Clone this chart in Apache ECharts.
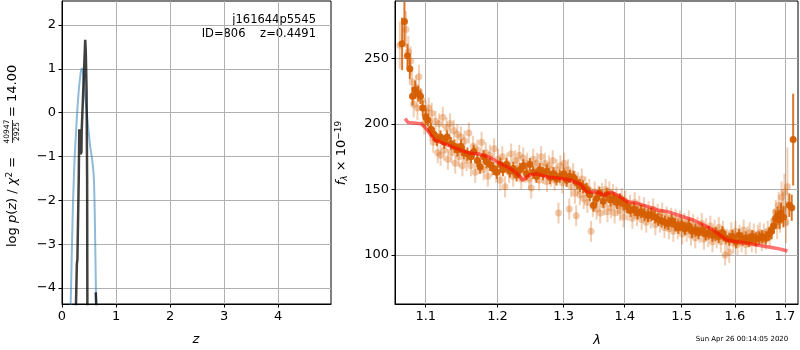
<!DOCTYPE html>
<html>
<head>
<meta charset="utf-8">
<script src="https://cdn.jsdelivr.net/npm/echarts@6/dist/echarts.min.js"></script>
<style>
  html, body { margin: 0; padding: 0; background: #fff; }
  #chart { width: 800px; height: 350px; }
</style>
</head>
<body>
<div id="chart"></div>
<script>
// ---- left panel: log p(z) ----
const zTicks = [0, 1, 2, 3, 4]
const logpTicks = [-4, -3, -2, -1, 0, 1, 2]
const pzBlue = [
  [0.155, -4.6], [0.168, -4.0], [0.185, -3.0], [0.205, -2.0], [0.235, -1.0], [0.26, -0.45],
  [0.28, 0.0], [0.31, 0.5], [0.34, 0.85], [0.36, 1.0], [0.38, 1.0], [0.4, 0.75],
  [0.43, 0.35], [0.46, 0.0], [0.49, -0.4], [0.52, -0.75], [0.55, -1.0], [0.57, -1.2],
  [0.59, -1.5], [0.605, -2.2], [0.615, -3.0], [0.625, -3.8], [0.635, -4.6]
]
const pzBlack = [
  [0.255, -4.6], [0.275, -3.45], [0.285, -3.35], [0.31, -1.5], [0.32, -0.38], [0.34, -0.95],
  [0.36, -0.9], [0.365, -0.4], [0.43, 1.66], [0.44, 1.4], [0.455, 0.5], [0.465, -1.5], [0.47, -4.6]
]
const pzBlackTail = [[0.625, -4.1], [0.64, -4.6]]

// ---- right panel: spectrum [lambda, flux, err] ----
const lamTicks = [1.1, 1.2, 1.3, 1.4, 1.5, 1.6, 1.7]
const fluxTicks = [100, 150, 200, 250]
const specLight = [
  [1.066, 260, 18], [1.074, 272, 14], [1.077, 255, 12], [1.080, 248, 11], [1.082, 232, 10], [1.084, 215, 10],
  [1.087, 228, 9], [1.089, 212, 9], [1.091, 236, 9], [1.095, 218, 8], [1.098, 200, 8], [1.100, 210, 8],
  [1.104, 212, 8], [1.106, 195, 8], [1.108, 208, 8], [1.110, 186, 8], [1.113, 202, 8], [1.116, 178, 8],
  [1.118, 200, 8], [1.120, 176, 8], [1.123, 205, 8], [1.125, 180, 8], [1.128, 197, 8], [1.130, 173, 8],
  [1.133, 200, 8], [1.135, 178, 8], [1.138, 195, 8], [1.140, 170, 8], [1.143, 192, 8], [1.145, 175, 8],
  [1.148, 190, 8], [1.150, 168, 8], [1.153, 187, 8], [1.156, 172, 8], [1.159, 193, 8], [1.162, 168, 8],
  [1.165, 183, 8], [1.168, 163, 8], [1.171, 180, 8], [1.174, 170, 8], [1.177, 186, 8], [1.180, 165, 8],
  [1.183, 178, 8], [1.186, 160, 8], [1.189, 176, 8], [1.192, 168, 8], [1.195, 181, 8], [1.198, 163, 8],
  [1.201, 173, 8], [1.204, 157, 8], [1.207, 175, 8], [1.211, 152, 8], [1.214, 170, 8], [1.217, 163, 8],
  [1.220, 177, 8], [1.223, 160, 8], [1.226, 172, 8], [1.229, 166, 8], [1.232, 176, 8], [1.235, 158, 8],
  [1.238, 174, 8], [1.241, 163, 8], [1.244, 170, 8], [1.247, 158, 8], [1.250, 151, 8], [1.253, 173, 8],
  [1.256, 164, 8], [1.259, 170, 8], [1.262, 157, 8], [1.265, 175, 8], [1.268, 162, 8], [1.271, 170, 8],
  [1.274, 156, 8], [1.277, 168, 8], [1.280, 160, 8], [1.283, 172, 8], [1.286, 157, 8], [1.289, 165, 8],
  [1.292, 132, 8], [1.295, 168, 8], [1.298, 155, 8], [1.301, 170, 8], [1.304, 160, 8], [1.307, 165, 8],
  [1.309, 135, 8], [1.312, 152, 8], [1.315, 162, 8], [1.318, 147, 8], [1.320, 130, 8], [1.323, 155, 8],
  [1.326, 146, 8], [1.329, 158, 8], [1.332, 143, 8], [1.335, 152, 8], [1.338, 140, 8], [1.341, 150, 8],
  [1.344, 118, 8], [1.347, 137, 8], [1.350, 148, 8], [1.353, 135, 8], [1.356, 145, 8], [1.359, 132, 8],
  [1.362, 147, 8], [1.365, 138, 8], [1.368, 150, 8], [1.371, 133, 8], [1.374, 148, 8], [1.377, 136, 8],
  [1.380, 146, 8], [1.383, 132, 8], [1.386, 144, 8], [1.389, 138, 8], [1.392, 134, 8], [1.395, 143, 8],
  [1.398, 129, 8], [1.401, 141, 8], [1.405, 134, 8], [1.409, 138, 8], [1.413, 128, 8], [1.417, 140, 8],
  [1.421, 130, 8], [1.425, 137, 8], [1.429, 127, 8], [1.433, 136, 8], [1.437, 125, 8], [1.441, 133, 8],
  [1.445, 128, 8], [1.449, 135, 8], [1.453, 123, 8], [1.457, 131, 8], [1.461, 125, 8], [1.465, 132, 8],
  [1.469, 121, 8], [1.473, 129, 8], [1.477, 120, 8], [1.481, 128, 8], [1.485, 118, 8], [1.489, 127, 8],
  [1.493, 120, 8], [1.497, 126, 8], [1.501, 116, 8], [1.505, 124, 8], [1.509, 118, 8], [1.513, 126, 8],
  [1.517, 115, 8], [1.521, 123, 8], [1.525, 113, 8], [1.529, 121, 8], [1.533, 117, 8], [1.537, 124, 8],
  [1.541, 112, 8], [1.545, 120, 8], [1.549, 114, 8], [1.553, 122, 8], [1.557, 110, 8], [1.561, 119, 8],
  [1.565, 113, 8], [1.569, 121, 8], [1.573, 110, 8], [1.577, 118, 8], [1.581, 100, 8], [1.585, 112, 8],
  [1.589, 102, 8], [1.593, 117, 8], [1.597, 109, 8], [1.601, 118, 8], [1.605, 108, 8], [1.609, 115, 8],
  [1.613, 110, 8], [1.617, 119, 8], [1.621, 108, 8], [1.625, 114, 8], [1.629, 117, 8], [1.633, 110, 8],
  [1.637, 116, 8], [1.641, 109, 8], [1.645, 115, 8], [1.649, 117, 8], [1.653, 111, 8], [1.657, 116, 8],
  [1.661, 112, 8], [1.665, 118, 8], [1.669, 114, 8], [1.673, 120, 8], [1.677, 126, 9], [1.681, 133, 9],
  [1.684, 122, 10], [1.687, 138, 10], [1.690, 128, 11], [1.693, 144, 12], [1.696, 135, 13], [1.699, 148, 14],
  [1.702, 125, 16], [1.705, 152, 30]
]
const specDark = [
  [1.069, 261, 20], [1.072, 278, 15], [1.076, 252, 9], [1.079, 242, 8], [1.0825, 221, 7], [1.086, 226, 7],
  [1.090, 223, 6], [1.093, 221, 6], [1.096, 212, 6], [1.100, 205, 6], [1.103, 203, 5], [1.107, 196, 5],
  [1.111, 192, 5], [1.115, 188, 5], [1.120, 190, 5], [1.125, 186, 5], [1.129, 190, 5], [1.134, 185, 5],
  [1.139, 183, 5], [1.143, 180, 5], [1.148, 183, 5], [1.152, 178, 5], [1.157, 177, 5], [1.162, 175, 5],
  [1.166, 179, 5], [1.171, 172, 5], [1.175, 167, 5], [1.180, 175, 5], [1.184, 171, 5], [1.189, 169, 5],
  [1.194, 166, 5], [1.199, 163, 5], [1.204, 169, 5], [1.208, 165, 5], [1.213, 169, 5], [1.218, 164, 5],
  [1.223, 166, 5], [1.228, 161, 5], [1.233, 165, 5], [1.238, 168, 5], [1.243, 162, 5], [1.248, 169, 5],
  [1.253, 163, 5], [1.258, 160, 5], [1.263, 165, 5], [1.268, 162, 5], [1.274, 164, 5], [1.279, 159, 5],
  [1.284, 162, 5], [1.289, 158, 5], [1.294, 160, 5], [1.300, 162, 5], [1.305, 157, 5], [1.310, 160, 5],
  [1.316, 159, 5], [1.321, 155, 5], [1.326, 153, 5], [1.331, 152, 5], [1.337, 150, 5], [1.342, 146, 5],
  [1.348, 138, 5], [1.353, 143, 5], [1.358, 147, 5], [1.364, 141, 5], [1.370, 146, 5], [1.376, 142, 5],
  [1.381, 143, 5], [1.387, 140, 5], [1.392, 142, 5], [1.398, 139, 5], [1.404, 137, 5], [1.410, 134, 5],
  [1.416, 135, 5], [1.422, 132, 5], [1.428, 133, 5], [1.434, 131, 5], [1.440, 130, 5], [1.446, 131, 5],
  [1.452, 129, 5], [1.458, 127, 5], [1.464, 126, 5], [1.470, 125, 5], [1.476, 124, 5], [1.482, 126, 5],
  [1.488, 123, 5], [1.494, 121, 5], [1.500, 123, 5], [1.506, 120, 5], [1.513, 122, 5], [1.519, 118, 5],
  [1.525, 119, 5], [1.531, 117, 5], [1.538, 119, 5], [1.544, 116, 5], [1.550, 117, 5], [1.557, 115, 5],
  [1.563, 116, 5], [1.569, 114, 5], [1.576, 117, 5], [1.582, 113, 5], [1.589, 112, 5], [1.595, 114, 5],
  [1.602, 110, 5], [1.608, 115, 5], [1.615, 112, 5], [1.621, 113, 5], [1.628, 111, 5], [1.634, 114, 5],
  [1.641, 112, 5], [1.648, 113, 5], [1.654, 114, 5], [1.661, 113, 5], [1.668, 116, 5], [1.672, 118, 6],
  [1.677, 122, 6], [1.681, 128, 6], [1.685, 130, 7], [1.689, 127, 7], [1.692, 132, 8], [1.697, 129, 8],
  [1.709, 138, 9], [1.714, 136, 10], [1.717, 188, 35]
]
const model = [
  [1.0728, 204], [1.0769, 201], [1.0944, 200], [1.1025, 195], [1.1112, 188], [1.1245, 185],
  [1.1336, 183], [1.1475, 180], [1.1615, 177.5], [1.1731, 177], [1.188, 174.5], [1.2036, 170],
  [1.2183, 166], [1.229, 162], [1.237, 157], [1.2476, 161], [1.2585, 162], [1.27, 160],
  [1.2793, 159], [1.295, 158.5], [1.311, 157], [1.3267, 154], [1.3376, 148], [1.3541, 148],
  [1.3652, 145.7], [1.3765, 148], [1.3877, 145.7], [1.4047, 140.6], [1.422, 139.4], [1.4394, 136.8],
  [1.457, 134.3], [1.4749, 133], [1.4929, 130.5], [1.5111, 128], [1.5213, 126.7], [1.5399, 123],
  [1.5587, 119], [1.5714, 115.2], [1.5842, 111.4], [1.6037, 110], [1.6235, 109], [1.6436, 107.6],
  [1.6639, 106.3], [1.6845, 105], [1.7052, 103]
]

const FONT = '"DejaVu Sans", sans-serif'
const ORANGE = '#d55e00'

const axisStyle = (ticks, fmt) => ({
  axisLine: { show: true, onZero: false, lineStyle: { color: '#000', width: 1 } },
  axisTick: { show: true, inside: false, length: 3.5, lineStyle: { color: '#000' }, customValues: ticks },
  axisLabel: { color: '#000', fontSize: 13, fontFamily: FONT, margin: 6, customValues: ticks, formatter: fmt },
  splitLine: { show: true, lineStyle: { color: '#b0b0b0', width: 1 } },
})

const minus = (v) => String(v).replace('-', '\u2212')

// error bar + dot
const errRender = (color, barOpacity, dotOpacity) => (params, api) => {
  const x = api.value(0), y = api.value(1), e = api.value(2)
  const c = api.coord([x, y])
  const top = api.coord([x, y + e])
  const bot = api.coord([x, y - e])
  return {
    type: 'group',
    children: [
      { type: 'line', shape: { x1: c[0], y1: top[1], x2: c[0], y2: bot[1] }, style: { stroke: color, lineWidth: 2, opacity: barOpacity } },
      { type: 'circle', shape: { cx: c[0], cy: c[1], r: 3.5 }, style: { fill: color, opacity: dotOpacity } },
    ],
  }
}

const chart = echarts.init(document.getElementById('chart'))
chart.setOption({
  animation: false,
  backgroundColor: '#fff',
  grid: [
    { left: 62, top: 1, width: 269, height: 303, show: true, borderColor: '#000', borderWidth: 1, backgroundColor: 'transparent' },
    { left: 395, top: 1, width: 403, height: 303, show: true, borderColor: '#000', borderWidth: 1, backgroundColor: 'transparent' },
  ],
  xAxis: [
    { type: 'value', gridIndex: 0, min: 0, max: 4.98, ...axisStyle(zTicks) },
    { type: 'log', logBase: 10, gridIndex: 1, min: 1.0598, max: 1.7271, ...axisStyle(lamTicks, (v) => Number(v).toFixed(1)) },
  ],
  yAxis: [
    { type: 'value', gridIndex: 0, min: -4.365, max: 2.548, ...axisStyle(logpTicks, minus) },
    { type: 'value', gridIndex: 1, min: 62.6, max: 293.7, ...axisStyle(fluxTicks) },
  ],
  series: [
    {
      type: 'line', xAxisIndex: 0, yAxisIndex: 0, data: pzBlue, showSymbol: false, smooth: 0.2,
      lineStyle: { color: 'rgba(31,119,180,0.5)', width: 2 }, clip: true,
    },
    {
      type: 'line', xAxisIndex: 0, yAxisIndex: 0, data: pzBlack, showSymbol: false,
      lineStyle: { color: 'rgba(0,0,0,0.75)', width: 2.5 }, clip: true,
    },
    {
      type: 'line', xAxisIndex: 0, yAxisIndex: 0, data: pzBlackTail, showSymbol: false,
      lineStyle: { color: 'rgba(0,0,0,0.75)', width: 2.5 }, clip: true,
    },
    {
      type: 'custom', xAxisIndex: 1, yAxisIndex: 1, data: specLight, clip: true,
      renderItem: errRender(ORANGE, 0.3, 0.32),
    },
    {
      type: 'custom', xAxisIndex: 1, yAxisIndex: 1, data: specDark, clip: true,
      renderItem: errRender(ORANGE, 0.85, 0.95),
    },
    {
      type: 'line', xAxisIndex: 1, yAxisIndex: 1, data: model, showSymbol: false,
      lineStyle: { color: 'rgba(255,0,0,0.55)', width: 3.5 }, clip: true,
    },
  ],
  graphic: [
    { type: 'text', x: 316, y: 20, style: { text: 'j161644p5545', font: '11.5px ' + FONT, fill: '#000', align: 'right', verticalAlign: 'middle' } },
    { type: 'text', x: 316, y: 34.5, style: { text: 'ID=806    z=0.4491', font: '11.5px ' + FONT, fill: '#000', align: 'right', verticalAlign: 'middle' } },
    { type: 'text', x: 196, y: 340, style: { text: 'z', font: 'italic 13px ' + FONT, fill: '#000', align: 'center', verticalAlign: 'middle' } },
    { type: 'text', x: 597, y: 341, style: { text: 'λ', font: 'italic 13px ' + FONT, fill: '#000', align: 'center', verticalAlign: 'middle' } },
    { type: 'text', x: 742, y: 339.5, style: { text: 'Sun Apr 26 00:14:05 2020', font: '7px ' + FONT, fill: '#000', align: 'center', verticalAlign: 'middle' } },
    // left y label, rotated
    {
      type: 'group', x: 13, y: 152, rotation: Math.PI / 2,
      children: [
        {
          type: 'text', x: -95, y: 0,
          style: {
            text: 'log {i|p}({i|z}) / {i|χ}{p|2} =', font: '13px ' + FONT, fill: '#000', align: 'left', verticalAlign: 'middle',
            rich: {
              i: { fontStyle: 'italic', fontSize: 13, fontFamily: FONT },
              p: { fontSize: 9, fontFamily: FONT, verticalAlign: 'top', padding: [0, 0, 6, 0] },
            },
          },
        },
        { type: 'text', x: 20.5, y: -1.5, style: { text: '40947', font: '7.5px ' + FONT, fill: '#000', align: 'center', verticalAlign: 'bottom' } },
        { type: 'rect', shape: { x: 9, y: -1, width: 23, height: 0.8 }, style: { fill: '#000' } },
        { type: 'text', x: 20.5, y: 0.5, style: { text: '2925', font: '7.5px ' + FONT, fill: '#000', align: 'center', verticalAlign: 'top' } },
        { type: 'text', x: 35, y: 0, style: { text: '= 14.00', font: '13px ' + FONT, fill: '#000', align: 'left', verticalAlign: 'middle' } },
      ],
    },
    // right y label, rotated
    {
      type: 'text', x: 342, y: 153, rotation: Math.PI / 2,
      style: {
        text: '{i|f}{s|λ} × 10{p|−19}', font: '13px ' + FONT, fill: '#000', align: 'center', verticalAlign: 'middle',
        rich: {
          i: { fontStyle: 'italic', fontSize: 13, fontFamily: FONT },
          s: { fontStyle: 'italic', fontSize: 9, fontFamily: FONT, padding: [6, 0, 0, 0] },
          p: { fontSize: 9, fontFamily: FONT, padding: [0, 0, 7, 0] },
        },
      },
    },
  ],
})
</script>
</body>
</html>
